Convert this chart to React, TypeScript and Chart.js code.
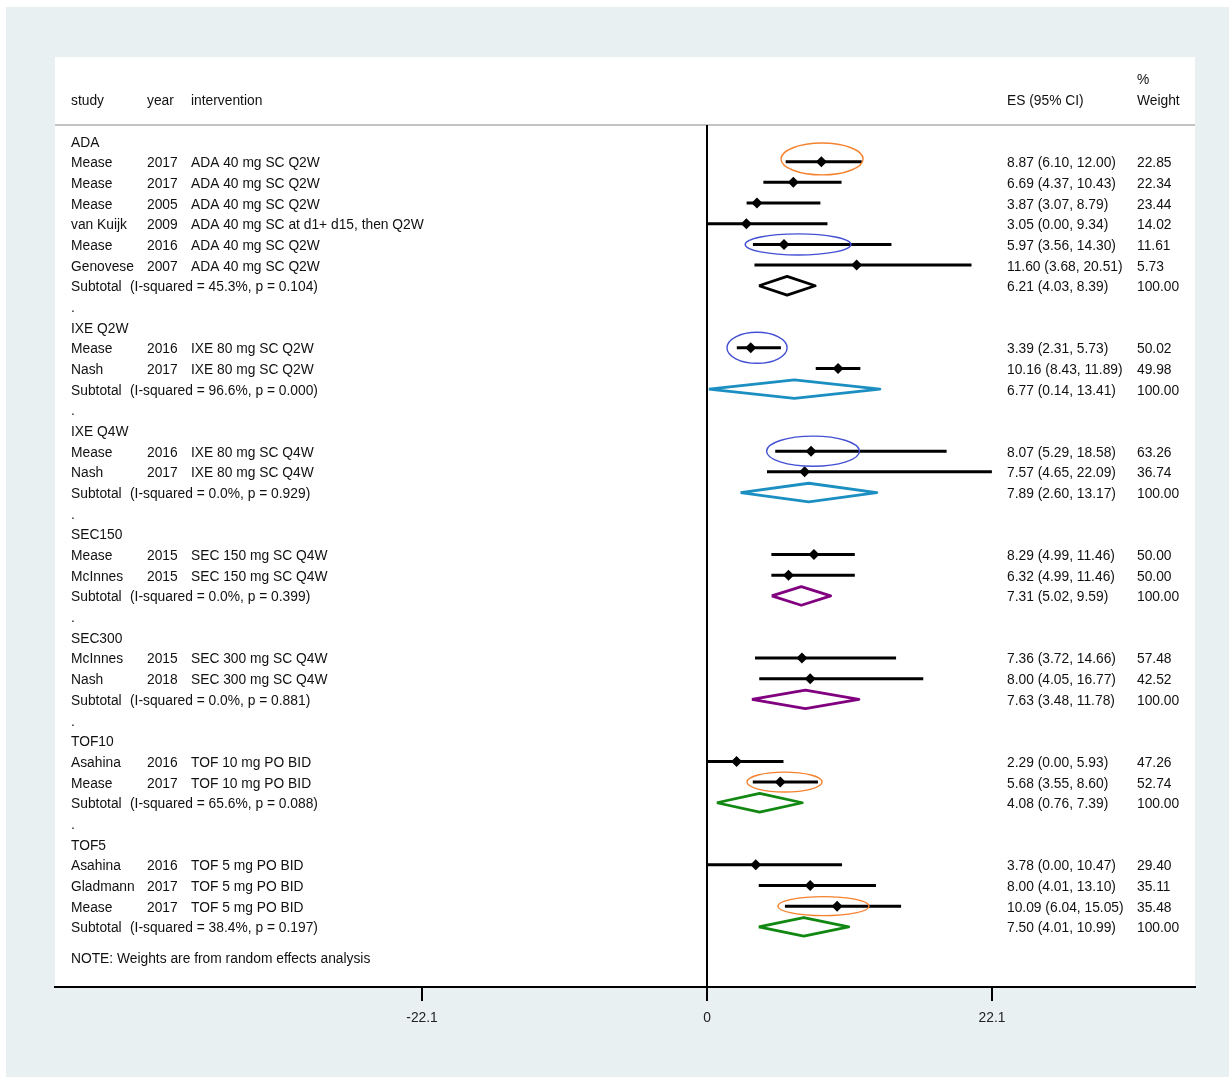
import React, { useEffect, useRef } from 'react';
import { Chart, registerables } from 'chart.js';

Chart.register(...registerables);

// ---------------- data ----------------
const groupNames = ['ADA', 'IXE Q2W', 'IXE Q4W', 'SEC150', 'SEC300', 'TOF10', 'TOF5'];
const groupI2 = ['45.3%', '96.6%', '0.0%', '0.0%', '0.0%', '65.6%', '38.4%'];
const groupP = ['0.104', '0.000', '0.929', '0.399', '0.881', '0.088', '0.197'];
const subES = [6.21, 6.77, 7.89, 7.31, 7.63, 4.08, 7.5];
const subLo = [4.03, 0.14, 2.6, 5.02, 3.48, 0.76, 4.01];
const subHi = [8.39, 13.41, 13.17, 9.59, 11.78, 7.39, 10.99];

const studyGroup = [0, 0, 0, 0, 0, 0, 1, 1, 2, 2, 3, 3, 4, 4, 5, 5, 6, 6, 6];
const studyNames = ['Mease', 'Mease', 'Mease', 'van Kuijk', 'Mease', 'Genovese', 'Mease', 'Nash', 'Mease', 'Nash', 'Mease', 'McInnes', 'McInnes', 'Nash', 'Asahina', 'Mease', 'Asahina', 'Gladmann', 'Mease'];
const studyYears = ['2017', '2017', '2005', '2009', '2016', '2007', '2016', '2017', '2016', '2017', '2015', '2015', '2015', '2018', '2016', '2017', '2016', '2017', '2017'];
const studyInterventions = [
  'ADA 40 mg SC Q2W', 'ADA 40 mg SC Q2W', 'ADA 40 mg SC Q2W', 'ADA 40 mg SC at d1+ d15, then Q2W', 'ADA 40 mg SC Q2W', 'ADA 40 mg SC Q2W',
  'IXE 80 mg SC Q2W', 'IXE 80 mg SC Q2W', 'IXE 80 mg SC Q4W', 'IXE 80 mg SC Q4W',
  'SEC 150 mg SC Q4W', 'SEC 150 mg SC Q4W', 'SEC 300 mg SC Q4W', 'SEC 300 mg SC Q4W',
  'TOF 10 mg PO BID', 'TOF 10 mg PO BID', 'TOF 5 mg PO BID', 'TOF 5 mg PO BID', 'TOF 5 mg PO BID',
];
const studyES = [8.87, 6.69, 3.87, 3.05, 5.97, 11.6, 3.39, 10.16, 8.07, 7.57, 8.29, 6.32, 7.36, 8.0, 2.29, 5.68, 3.78, 8.0, 10.09];
const studyLo = [6.1, 4.37, 3.07, 0.0, 3.56, 3.68, 2.31, 8.43, 5.29, 4.65, 4.99, 4.99, 3.72, 4.05, 0.0, 3.55, 0.0, 4.01, 6.04];
const studyHi = [12.0, 10.43, 8.79, 9.34, 14.3, 20.51, 5.73, 11.89, 18.58, 22.09, 11.46, 11.46, 14.66, 16.77, 5.93, 8.6, 10.47, 13.1, 15.05];
const studyWeight = ['22.85', '22.34', '23.44', '14.02', '11.61', '5.73', '50.02', '49.98', '63.26', '36.74', '50.00', '50.00', '57.48', '42.52', '47.26', '52.74', '29.40', '35.11', '35.48'];

const xTickValues = [-22.1, 0, 22.1];
const xTickLabels = ['-22.1', '0', '22.1'];

// hand-drawn highlight ellipses (annotation): study index, centre (ES units), x radius (ES units), y radius (rows)
const ellipseStudy = [0, 4, 6, 8, 15, 18];
const ellipseCenter = [8.92, 7.06, 3.88, 8.22, 6.01, 9.03];
const ellipseRx = [3.18, 4.1, 2.33, 3.6, 2.91, 3.53];
const ellipseRy = [0.77, 0.51, 0.75, 0.73, 0.48, 0.46];
const ellipseKind = ['orange', 'blue', 'blue', 'blue', 'orange', 'orange'];

// ---------------- styles ----------------
const groupColors = ['#000000', '#1b8fc1', '#1b8fc1', '#800080', '#800080', '#118811', '#118811'];
const ellipseColors: Record<string, string> = { orange: '#f5822f', blue: '#4350d3' };
const FONT = '"Liberation Sans", Arial, sans-serif';
const FS = 13.8;

export default function App() {
  const ref = useRef<HTMLCanvasElement>(null);

  useEffect(() => {
    const canvas = ref.current!;

    // build row layout
    type Row = { kind: 'group' | 'study' | 'sub' | 'dot'; g: number; s: number; pos: number };
    const rows: Row[] = [];
    let pos = 0;
    const studyRow: number[] = [];
    const subRow: number[] = [];
    groupNames.forEach((_, g) => {
      rows.push({ kind: 'group', g, s: -1, pos: pos++ });
      studyGroup.forEach((sg, i) => {
        if (sg === g) {
          studyRow[i] = pos;
          rows.push({ kind: 'study', g, s: i, pos: pos++ });
        }
      });
      subRow[g] = pos;
      rows.push({ kind: 'sub', g, s: -1, pos: pos++ });
      if (g < groupNames.length - 1) rows.push({ kind: 'dot', g, s: -1, pos: pos++ });
    });
    const lastRow = pos - 1;

    const ciData: any[] = [];
    studyES.forEach((_, i) => {
      ciData.push({ x: studyLo[i], y: studyRow[i] });
      ciData.push({ x: studyHi[i], y: studyRow[i] });
      ciData.push({ x: null, y: null });
    });
    const pointData = studyES.map((v, i) => ({ x: v, y: studyRow[i] }));

    const dh = 0.45;
    const diamondSets = groupNames.map((_, g) => ({
      type: 'scatter' as const,
      data: [
        { x: subLo[g], y: subRow[g] },
        { x: subES[g], y: subRow[g] - dh },
        { x: subHi[g], y: subRow[g] },
        { x: subES[g], y: subRow[g] + dh },
        { x: subLo[g], y: subRow[g] },
      ],
      showLine: true,
      borderColor: groupColors[g],
      borderWidth: 2.8,
      borderJoinStyle: 'round' as const,
      pointRadius: 0,
      fill: false,
      tension: 0,
      order: 1,
    }));

    const fmt = (v: number) => v.toFixed(2);
    const esText = (e: number, l: number, h: number) => `${fmt(e)} (${fmt(l)}, ${fmt(h)})`;

    const decor = {
      id: 'decor',
      beforeDraw(chart: any) {
        const { ctx, chartArea: a, width, height } = chart;
        ctx.save();
        ctx.fillStyle = '#e8f0f2';
        ctx.fillRect(0, 0, width, height);
        ctx.fillStyle = '#ffffff';
        ctx.fillRect(a.left, a.top, a.right - a.left, a.bottom - a.top);
        ctx.restore();
      },
      beforeDatasetsDraw(chart: any) {
        const { ctx, chartArea: a } = chart;
        const x = chart.scales.x;
        const y = chart.scales.y;
        ctx.save();
        const lineY = Math.round(y.getPixelForValue(-0.77));
        ctx.strokeStyle = '#c3c3c3';
        ctx.lineWidth = 2;
        ctx.beginPath();
        ctx.moveTo(a.left, lineY);
        ctx.lineTo(a.right, lineY);
        ctx.stroke();

        const x0 = Math.round(x.getPixelForValue(0));
        ctx.strokeStyle = '#000';
        ctx.lineWidth = 2;
        ctx.beginPath();
        ctx.moveTo(x0, lineY);
        ctx.lineTo(x0, a.bottom);
        ctx.stroke();

        const cStudy = a.left + 16;
        const cYear = a.left + 92;
        const cInt = a.left + 136;
        const cSubNote = a.left + 75;
        const cES = a.left + 952;
        const cW = a.left + 1082;

        ctx.fillStyle = '#111';
        ctx.font = `${FS}px ${FONT}`;
        ctx.textBaseline = 'middle';
        ctx.textAlign = 'left';
        const t = (s: string, px: number, r: number) => ctx.fillText(s, px, y.getPixelForValue(r) + 1.7);

        t('study', cStudy, -2);
        t('year', cYear, -2);
        t('intervention', cInt, -2);
        t('ES (95% CI)', cES, -2);
        t('%', cW, -3);
        t('Weight', cW, -2);

        rows.forEach((r) => {
          if (r.kind === 'group') t(groupNames[r.g], cStudy, r.pos);
          else if (r.kind === 'study') {
            const i = r.s;
            t(studyNames[i], cStudy, r.pos);
            t(studyYears[i], cYear, r.pos);
            t(studyInterventions[i], cInt, r.pos);
            t(esText(studyES[i], studyLo[i], studyHi[i]), cES, r.pos);
            t(studyWeight[i], cW, r.pos);
          } else if (r.kind === 'sub') {
            t('Subtotal', cStudy, r.pos);
            t(`(I-squared = ${groupI2[r.g]}, p = ${groupP[r.g]})`, cSubNote, r.pos);
            t(esText(subES[r.g], subLo[r.g], subHi[r.g]), cES, r.pos);
            t('100.00', cW, r.pos);
          } else {
            t('.', cStudy, r.pos);
          }
        });
        t('NOTE: Weights are from random effects analysis', cStudy, lastRow + 1.46);
        ctx.restore();
      },
      afterDatasetsDraw(chart: any) {
        const { ctx } = chart;
        const x = chart.scales.x;
        const y = chart.scales.y;
        ctx.save();
        ctx.lineWidth = 1.4;
        ellipseStudy.forEach((s, k) => {
          const r = studyRow[s] + (k === 0 ? -0.13 : 0);
          const cx = x.getPixelForValue(ellipseCenter[k]);
          const cy = y.getPixelForValue(r);
          const rx = Math.abs(x.getPixelForValue(ellipseCenter[k] + ellipseRx[k]) - cx);
          const ry = Math.abs(y.getPixelForValue(r + ellipseRy[k]) - cy);
          ctx.strokeStyle = ellipseColors[ellipseKind[k]];
          ctx.beginPath();
          ctx.ellipse(cx, cy, rx, ry, 0, 0, Math.PI * 2);
          ctx.stroke();
        });
        ctx.restore();
      },
    };

    const chart = new Chart(canvas, {
      type: 'scatter',
      data: {
        datasets: [
          {
            type: 'scatter',
            data: ciData,
            showLine: true,
            spanGaps: false,
            borderColor: '#000',
            borderWidth: 3,
            pointRadius: 0,
            order: 2,
          } as any,
          ...(diamondSets as any[]),
          {
            type: 'scatter',
            data: pointData,
            pointStyle: 'rectRot',
            pointRadius: 5.5,
            backgroundColor: '#000',
            borderColor: '#000',
            borderWidth: 0,
            order: 0,
          } as any,
        ],
      },
      options: {
        animation: false,
        responsive: false,
        events: [],
        layout: { padding: { left: 49, right: 34, top: 50, bottom: 0 } },
        plugins: { legend: { display: false }, tooltip: { enabled: false }, title: { display: false } },
        scales: {
          x: {
            type: 'linear',
            position: 'bottom',
            min: -50.56,
            max: 37.84,
            offset: false,
            afterBuildTicks: (s: any) => {
              s.ticks = xTickValues.map((v) => ({ value: v }));
            },
            afterFit: (s: any) => {
              s.height = 90;
            },
            ticks: {
              autoSkip: false,
              maxRotation: 0,
              padding: 9,
              color: '#222',
              font: { family: FONT, size: FS },
              callback: (v: any) => {
                const i = xTickValues.indexOf(Number(v));
                return i >= 0 ? xTickLabels[i] : '';
              },
            },
            grid: { drawOnChartArea: false, drawTicks: true, tickLength: 14, color: '#000', lineWidth: 2 },
            border: { display: true, color: '#000', width: 2 },
          },
          y: {
            type: 'linear',
            display: false,
            reverse: true,
            min: -4.062,
            max: 40.91,
            offset: false,
          },
        },
      } as any,
      plugins: [decor],
    });

    return () => chart.destroy();
  }, []);

  return (
    <div style={{ position: 'absolute', left: 6, top: 7, width: 1223, height: 1070 }}>
      <canvas ref={ref} width={1223} height={1070} style={{ display: 'block' }} />
    </div>
  );
}
